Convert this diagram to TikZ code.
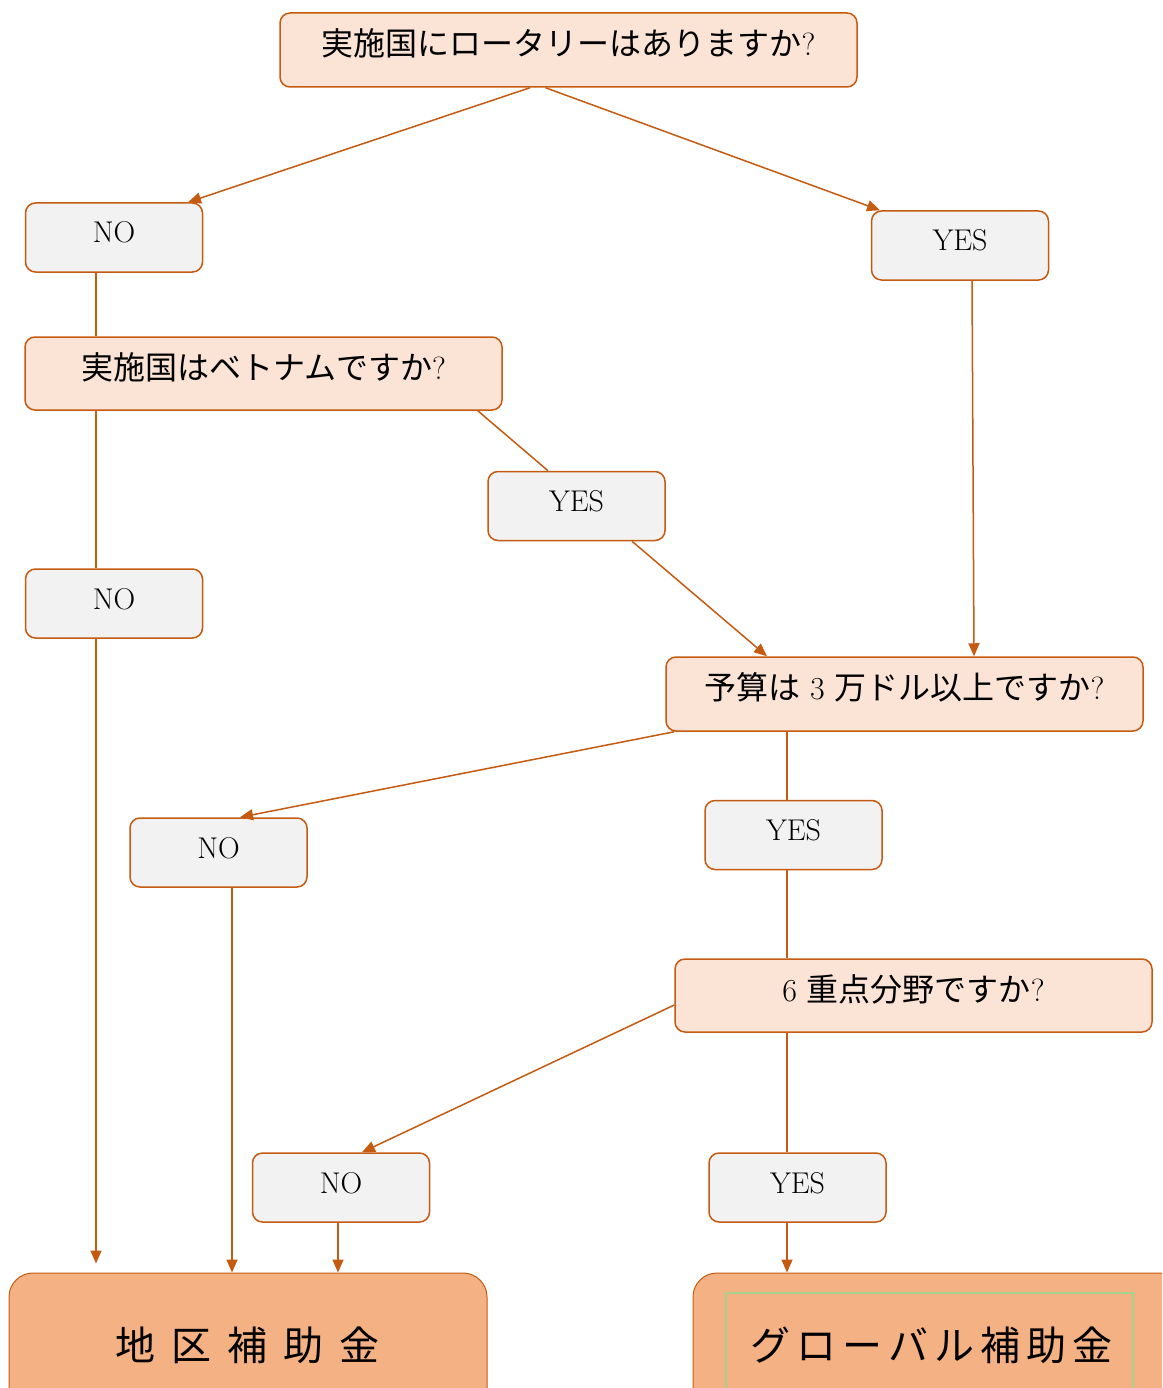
\documentclass[tikz,border=0pt]{standalone}
\usepackage{fontspec}
\newfontfamily\cjk{Noto Sans CJK JP}
\usetikzlibrary{arrows.meta,calc}
\definecolor{brd}{HTML}{C55A11}
\definecolor{qfill}{HTML}{FBE3D6}
\definecolor{afill}{HTML}{F2F2F2}
\definecolor{rfill}{HTML}{F4B183}
\definecolor{grn}{HTML}{A9D18E}
\tikzset{
  qbox/.style={draw=brd, fill=qfill, rounded corners=10pt, line width=1.5pt, inner sep=0pt,
    text height=25pt, text depth=14pt, font=\fontsize{32}{36}\selectfont},
  abox/.style={draw=brd, fill=afill, rounded corners=10pt, line width=1.5pt, inner sep=0pt,
    text height=21pt, text depth=10pt,
    minimum width=177pt, minimum height=69pt, font=\fontsize{30}{34}\selectfont},
  rbox/.style={draw=brd, fill=rfill, rounded corners=24pt, line width=1pt, inner sep=0pt},
  conn/.style={draw=brd, line width=1.5pt},
  arr/.style={conn, -{Triangle[length=13pt,width=11pt]}}
}
\begin{document}
\begin{tikzpicture}[x=1pt,y=-1pt]
\clip (0,0) rectangle (1162,1388);
\fill[white] (0,0) rectangle (1162,1388);
% question boxes
\node[qbox, minimum width=577pt, minimum height=74pt] (Q1) at (568.5,50) {{\cjk 実施国にロータリーはありますか}?};
\node[qbox, minimum width=477pt, minimum height=73pt] (Q2) at (263.5,373.5) {{\cjk 実施国はベトナムですか}?};
\node[qbox, minimum width=477pt, minimum height=74pt] (Q3) at (904.5,694) {{\cjk 予算は} 3 {\cjk 万ドル以上ですか}?};
\node[qbox, minimum width=477pt, minimum height=73pt] (Q4) at (913.5,995.5) {6 {\cjk 重点分野ですか}?};
% answer boxes
\node[abox] (NO1) at (114,237.5) {NO};
\node[abox] (YES1) at (960,245.5) {YES};
\node[abox] (YES2) at (576.5,506) {YES};
\node[abox] (NO2) at (114,603.5) {NO};
\node[abox] (NO3) at (218.5,852.5) {NO};
\node[abox] (YES3) at (793.5,835) {YES};
\node[abox] (NO4) at (341,1187.5) {NO};
\node[abox] (YES4) at (797.5,1187.5) {YES};
% result boxes
\node[rbox, minimum width=478pt, minimum height=142pt] (R1) at (248,1344) {};
\node[rbox, minimum width=497pt, minimum height=142pt] (R2) at (941.5,1344) {};
\draw[grn, line width=2pt] (726,1420) -- (726,1293) -- (1133,1293) -- (1133,1420);
\node[font=\fontsize{40}{44}\selectfont\cjk] (T1) at (247,1345) {地\hspace{16pt}区\hspace{16pt}補\hspace{16pt}助\hspace{16pt}金};
\node[font=\fontsize{40}{44}\selectfont\cjk] (T2) at (931,1345) {グ\hspace{6pt}ロ\hspace{6pt}ー\hspace{6pt}バ\hspace{6pt}ル\hspace{6pt}補\hspace{6pt}助\hspace{6pt}金};
% connectors
\draw[arr] ([xshift=-38.5pt]Q1.south) -- ([xshift=74pt]NO1.north);
\draw[arr] ([xshift=-23pt]Q1.south) -- ([xshift=-80pt]YES1.north);
\draw[conn] ([xshift=-18pt]NO1.south) -- ([xshift=-18pt]NO1.south |- Q2.north);
\draw[conn] ([xshift=-18pt]NO2.north |- Q2.south) -- ([xshift=-18pt]NO2.north);
\draw[arr, shorten >=9pt] ([xshift=-18pt]NO2.south) -- ([xshift=-18pt]NO2.south |- R1.north);
\draw[conn] ([xshift=-25pt]Q2.south east) -- ([xshift=-28.5pt]YES2.north);
\draw[arr] ([xshift=55.5pt]YES2.south) -- ([xshift=-137.5pt]Q3.north);
\draw[arr] ([xshift=12pt]YES1.south) -- ([xshift=69.5pt]Q3.north);
\draw[arr] ([xshift=9pt]Q3.south west) -- ([xshift=21.5pt]NO3.north);
\draw[conn] ([xshift=-6.5pt]YES3.north |- Q3.south) -- ([xshift=-6.5pt]YES3.north);
\draw[conn] ([xshift=-6.5pt]YES3.south) -- ([xshift=-6.5pt]YES3.south |- Q4.north);
\draw[arr] ([xshift=13.5pt]NO3.south) -- ([xshift=13.5pt]NO3.south |- R1.north);
\draw[arr] ([yshift=-9.5pt]Q4.west) -- ([xshift=21pt]NO4.north);
\draw[conn] ([xshift=-10.5pt]YES4.north |- Q4.south) -- ([xshift=-10.5pt]YES4.north);
\draw[arr] ([xshift=-3pt]NO4.south) -- ([xshift=-3pt]NO4.south |- R1.north);
\draw[arr] ([xshift=-10.5pt]YES4.south) -- ([xshift=-10.5pt]YES4.south |- R2.north);
\end{tikzpicture}
\end{document}
